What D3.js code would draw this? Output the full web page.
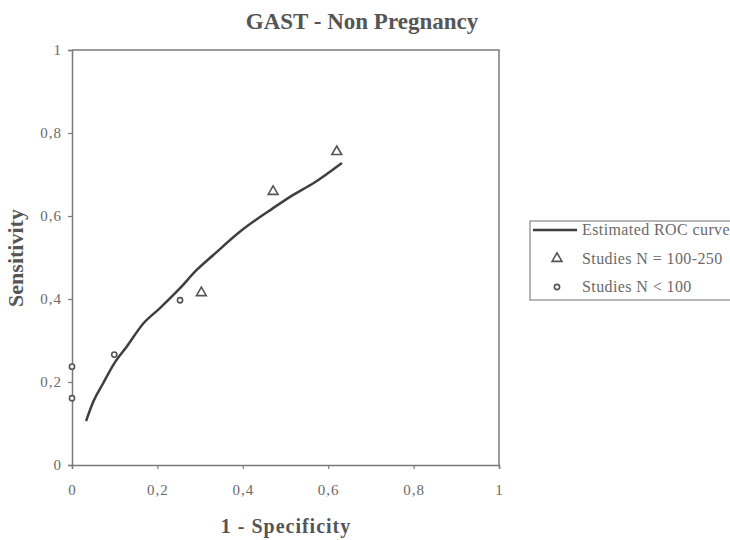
<!DOCTYPE html>
<html lang="en">
<head>
<meta charset="UTF-8">
<title>GAST - Non Pregnancy</title>
<script src="https://d3js.org/d3.v7.min.js"></script>
<style>
    body { margin: 0; background: #fff; }
    svg { display: block; font-family: "Liberation Serif", "DejaVu Serif", serif; }
</style>
</head>
<body>
<svg id="chart" width="730" height="540"></svg>
<script>
    // estimated ROC curve
    const curveFpr = [0.033, 0.050, 0.073, 0.099, 0.128, 0.167, 0.206, 0.253, 0.292, 0.331, 0.393, 0.471, 0.518, 0.565, 0.632];
    const curveSens = [0.106, 0.153, 0.197, 0.245, 0.285, 0.341, 0.378, 0.426, 0.470, 0.506, 0.562, 0.619, 0.651, 0.679, 0.728];

    // studies N = 100-250 (triangles)
    const bigFpr = [0.303, 0.471, 0.620];
    const bigSens = [0.415, 0.659, 0.755];

    // studies N < 100 (circles)
    const smallFpr = [0, 0, 0.099, 0.253];
    const smallSens = [0.161, 0.237, 0.266, 0.397];

    const tickValues = [0, 0.2, 0.4, 0.6, 0.8, 1];
    const legendLabels = ["Estimated ROC curve", "Studies N = 100-250", "Studies N < 100"];

    const svg = d3.select("#chart");
    const plotLeft = 72, plotRight = 499, plotTop = 50, plotBottom = 465;

    const x = d3.scaleLinear().domain([0, 1]).range([plotLeft, plotRight]);
    const y = d3.scaleLinear().domain([0, 1]).range([plotBottom, plotTop]);
    const fmt = d => d === 0 || d === 1 ? String(d) : d3.format(".1f")(d).replace(".", ",");

    const axisColor = "#7a7a7a", textColor = "#6a6a6a", markColor = "#555";

    // plot frame (top and right borders)
    svg.append("path")
        .attr("d", `M${plotLeft},${plotTop}H${plotRight}V${plotBottom}`)
        .attr("fill", "none").attr("stroke", axisColor).attr("stroke-width", 1.5);

    const xAxis = svg.append("g")
        .attr("transform", `translate(0,${plotBottom})`)
        .call(d3.axisBottom(x).tickValues(tickValues).tickFormat(fmt).tickSize(4).tickPadding(15));
    const yAxis = svg.append("g")
        .attr("transform", `translate(${plotLeft},0)`)
        .call(d3.axisLeft(y).tickValues(tickValues).tickFormat(fmt).tickSize(4).tickPadding(6));

    [xAxis, yAxis].forEach(g => {
        g.select(".domain").attr("stroke", axisColor).attr("stroke-width", 1.5);
        g.selectAll(".tick line").attr("stroke", axisColor).attr("stroke-width", 1.2);
        g.selectAll(".tick text")
            .attr("fill", textColor)
            .style("font-family", "'Liberation Serif', serif")
            .style("font-size", "15px")
            .style("letter-spacing", "1px");
    });

    // curve
    const line = d3.line().x(d => x(d[0])).y(d => y(d[1])).curve(d3.curveMonotoneX);
    svg.append("path")
        .datum(d3.zip(curveFpr, curveSens))
        .attr("d", line)
        .attr("fill", "none").attr("stroke", "#3f3f3f").attr("stroke-width", 2.5);

    const tri = d3.symbol().type(d3.symbolTriangle).size(42);

    svg.selectAll(".big")
        .data(d3.zip(bigFpr, bigSens))
        .enter().append("path")
        .attr("class", "big")
        .attr("d", tri)
        .attr("transform", d => `translate(${x(d[0])},${y(d[1])})`)
        .attr("fill", "none").attr("stroke", markColor).attr("stroke-width", 1.6);

    svg.selectAll(".small")
        .data(d3.zip(smallFpr, smallSens))
        .enter().append("circle")
        .attr("class", "small")
        .attr("cx", d => x(d[0])).attr("cy", d => y(d[1]))
        .attr("r", 2.6)
        .attr("fill", "#fff").attr("stroke", markColor).attr("stroke-width", 1.6);

    // titles
    svg.append("text")
        .attr("x", 362).attr("y", 29)
        .attr("text-anchor", "middle")
        .attr("fill", "#555").style("font-weight", "bold").style("font-size", "23px")
        .text("GAST - Non Pregnancy");

    svg.append("text")
        .attr("x", 286).attr("y", 533)
        .attr("text-anchor", "middle")
        .attr("fill", "#555").style("font-weight", "bold").style("font-size", "20px")
        .style("letter-spacing", "1px")
        .text("1 - Specificity");

    svg.append("text")
        .attr("transform", `translate(23,258) rotate(-90)`)
        .attr("text-anchor", "middle")
        .attr("fill", "#555").style("font-weight", "bold").style("font-size", "22px")
        .text("Sensitivity");

    // legend
    const lg = svg.append("g");
    lg.append("rect")
        .attr("x", 530).attr("y", 221).attr("width", 220).attr("height", 79)
        .attr("fill", "#fff").attr("stroke", "#888").attr("stroke-width", 1.2);

    const rowY = i => 230 + i * 28.5;

    lg.append("line")
        .attr("x1", 533).attr("x2", 577).attr("y1", rowY(0)).attr("y2", rowY(0))
        .attr("stroke", "#3f3f3f").attr("stroke-width", 2.5);
    lg.append("path")
        .attr("d", tri)
        .attr("transform", `translate(557,${rowY(1)})`)
        .attr("fill", "none").attr("stroke", markColor).attr("stroke-width", 1.6);
    lg.append("circle")
        .attr("cx", 557).attr("cy", rowY(2)).attr("r", 2.6)
        .attr("fill", "#fff").attr("stroke", markColor).attr("stroke-width", 1.6);

    lg.selectAll(".lbl")
        .data(legendLabels)
        .enter().append("text")
        .attr("class", "lbl")
        .attr("x", 582).attr("y", (d, i) => rowY(i) + 5)
        .attr("fill", textColor).style("font-size", "16px")
        .style("letter-spacing", "0.4px")
        .text(d => d);
</script>
</body>
</html>
